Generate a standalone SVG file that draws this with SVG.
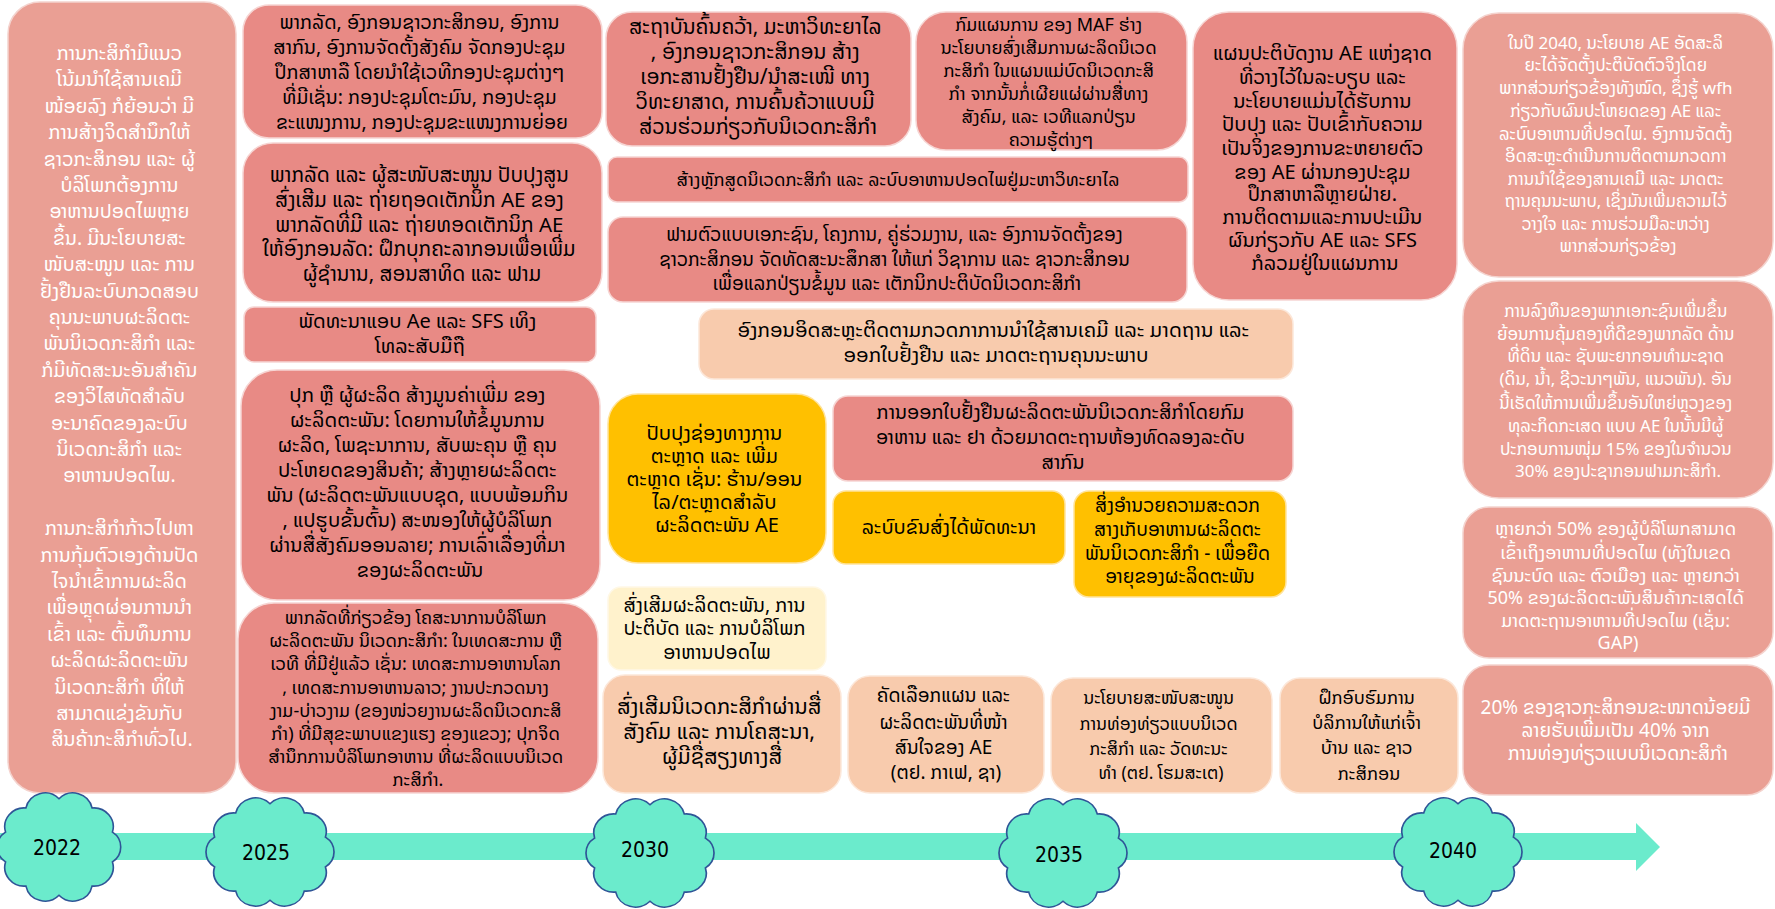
<svg xmlns="http://www.w3.org/2000/svg" width="1775" height="909" viewBox="0 0 1775 909">
<style>
text{font-family:"Noto Sans Lao","DejaVu Sans","Noto Sans",sans-serif;text-anchor:middle;}
.w{fill:#ffffff;font-size:19px;}
.b{fill:#000000;font-size:18px;}
.salmon{fill:#EA9F94;stroke:#F4D3CE;stroke-width:1.5;}
.pink{fill:#E88A85;stroke:#F6D5D3;stroke-width:1.5;}
.peach{fill:#F8CBAD;stroke:#FCE7D9;stroke-width:1.5;}
.orange{fill:#FFC000;stroke:#FFE39A;stroke-width:1.5;}
.cream{fill:#FFF2CC;stroke:#FFF8E6;stroke-width:1.5;}
.cloud{fill:#6BEBCC;stroke:#2F5597;stroke-width:1.5;}
.year{fill:#000000;font-size:21px;font-family:"DejaVu Sans Condensed","DejaVu Sans",sans-serif;}
</style>
<defs>
<path id="cloudShape" d="M0,-46 A18,18 0 0 1 30.6,-37.2 A18,18 0 0 1 49.5,-14.2 A17,17 0 0 1 49.5,14.2 A18,18 0 0 1 30.6,37.2 A18,18 0 0 1 0,46 A18,18 0 0 1 -30.6,37.2 A18,18 0 0 1 -49.5,14.2 A17,17 0 0 1 -49.5,-14.2 A18,18 0 0 1 -30.6,-37.2 A18,18 0 0 1 0,-46 Z"/>
</defs>

<g id="timeline">
<polygon points="0,833 1636,833 1636,823 1660,847 1636,871 1636,860 0,860" fill="#6BEBCC"/>
</g>

<g id="connectors"></g>

<g id="n2022-vision">
<rect class="salmon" x="8" y="2" width="228" height="791" rx="32"/>
<text class="w" style="font-size:19.5px">
<tspan x="122" y="60">ການກະສິກຳມີແນວ</tspan>
<tspan x="122" y="86.4">ໂນ້ມນຳໃຊ້ສານເຄມີ</tspan>
<tspan x="122" y="112.8">ໜ້ອຍລົງ ກໍຍ້ອນວ່າ ມີ</tspan>
<tspan x="122" y="139.2">ການສ້າງຈິດສຳນຶກໃຫ້</tspan>
<tspan x="122" y="165.6">ຊາວກະສິກອນ ແລະ ຜູ້</tspan>
<tspan x="122" y="192">ບໍລິໂພກຕ້ອງການ</tspan>
<tspan x="122" y="218.4">ອາຫານປອດໄພຫຼາຍ</tspan>
<tspan x="122" y="244.8">ຂຶ້ນ. ມີນະໂຍບາຍສະ</tspan>
<tspan x="122" y="271.2">ໜັບສະໜູນ ແລະ ການ</tspan>
<tspan x="122" y="297.6">ຢັ້ງຢືນລະບົບກວດສອບ</tspan>
<tspan x="122" y="324">ຄຸນນະພາບຜະລິດຕະ</tspan>
<tspan x="122" y="350.4">ພັນນິເວດກະສິກຳ ແລະ</tspan>
<tspan x="122" y="376.8">ກໍມີທັດສະນະອັນສຳຄັນ</tspan>
<tspan x="122" y="403.2">ຂອງວິໄສທັດສຳລັບ</tspan>
<tspan x="122" y="429.6">ອະນາຄົດຂອງລະບົບ</tspan>
<tspan x="122" y="456">ນິເວດກະສິກຳ ແລະ</tspan>
<tspan x="122" y="482.4">ອາຫານປອດໄພ.</tspan>
<tspan x="122" y="535.2">ການກະສິກຳກ້າວໄປຫາ</tspan>
<tspan x="122" y="561.6">ການກຸ້ມຕົວເອງດ້ານປັດ</tspan>
<tspan x="122" y="588">ໄຈນຳເຂົ້າການຜະລິດ</tspan>
<tspan x="122" y="614.4">ເພື່ອຫຼຸດຜ່ອນການນຳ</tspan>
<tspan x="122" y="640.8">ເຂົ້າ ແລະ ຕົ້ນທຶນການ</tspan>
<tspan x="122" y="667.2">ຜະລິດຜະລິດຕະພັນ</tspan>
<tspan x="122" y="693.6">ນິເວດກະສິກຳ ທີ່ໃຫ້</tspan>
<tspan x="122" y="720">ສາມາດແຂ່ງຂັນກັບ</tspan>
<tspan x="122" y="746.4">ສິນຄ້າກະສິກຳທົ່ວໄປ.</tspan>
</text>
</g>

<g id="n2025-dialogue">
<rect class="pink" x="243" y="5" width="359" height="133" rx="26"/>
<text class="b" style="font-size:19.5px">
<tspan x="422" y="29">ພາກລັດ, ອົງກອນຊາວກະສິກອນ, ອົງການ</tspan>
<tspan x="422" y="54">ສາກົນ, ອົງການຈັດຕັ້ງສັງຄົມ ຈັດກອງປະຊຸມ</tspan>
<tspan x="422" y="79">ປຶກສາຫາລື ໂດຍນຳໃຊ້ເວທີກອງປະຊຸມຕ່າງໆ</tspan>
<tspan x="422" y="104">ທີ່ມີເຊັ່ນ: ກອງປະຊຸມໂຕະມົນ, ກອງປະຊຸມ</tspan>
<tspan x="422" y="129">ຂະແໜງການ, ກອງປະຊຸມຂະແໜງການຍ່ອຍ</tspan>
</text>
</g>

<g id="n2025-centres">
<rect class="pink" x="243" y="143" width="359" height="159" rx="30"/>
<text class="b" style="font-size:20.5px">
<tspan x="422" y="182">ພາກລັດ ແລະ ຜູ້ສະໜັບສະໜູນ ປັບປຸງສູນ</tspan>
<tspan x="422" y="207">ສົ່ງເສີມ ແລະ ຖ່າຍຖອດເຕັກນິກ AE ຂອງ</tspan>
<tspan x="422" y="232">ພາກລັດທີ່ມີ ແລະ ຖ່າຍທອດເຕັກນິກ AE</tspan>
<tspan x="422" y="256">ໃຫ້ອົງກອນລັດ: ຝຶກບຸກຄະລາກອນເພື່ອເພີ່ມ</tspan>
<tspan x="422" y="281">ຜູ້ຊຳນານ, ສອນສາທິດ ແລະ ຟາມ</tspan>
</text>
</g>

<g id="n2025-app">
<rect class="pink" x="244" y="307" width="352" height="55" rx="10"/>
<text class="b" style="font-size:20px">
<tspan x="420" y="328">ພັດທະນາແອບ Ae ແລະ SFS ເທິງ</tspan>
<tspan x="420" y="353">ໂທລະສັບມືຖື</tspan>
</text>
</g>

<g id="n2025-value">
<rect class="pink" x="241" y="370" width="359" height="230" rx="36"/>
<text class="b" style="font-size:20px">
<tspan x="420" y="402">ປຸກ ຫຼື ຜູ້ຜະລິດ ສ້າງມູນຄ່າເພີ່ມ ຂອງ</tspan>
<tspan x="420" y="427">ຜະລິດຕະພັນ: ໂດຍການໃຫ້ຂໍ້ມູນການ</tspan>
<tspan x="420" y="452">ຜະລິດ, ໂພຊະນາການ, ສັບພະຄຸນ ຫຼື ຄຸນ</tspan>
<tspan x="420" y="477">ປະໂຫຍດຂອງສິນຄ້າ; ສ້າງຫຼາຍຜະລິດຕະ</tspan>
<tspan x="420" y="502">ພັນ (ຜະລິດຕະພັນແບບຊຸດ, ແບບພ້ອມກິນ</tspan>
<tspan x="420" y="527">, ແປຮູບຂັ້ນຕົ້ນ) ສະໜອງໃຫ້ຜູ້ບໍລິໂພກ</tspan>
<tspan x="420" y="552">ຜ່ານສື່ສັງຄົມອອນລາຍ; ການເລົ່າເລື່ອງທີ່ມາ</tspan>
<tspan x="420" y="577">ຂອງຜະລິດຕະພັນ</tspan>
</text>
</g>

<g id="n2025-promotion">
<rect class="pink" x="238" y="603" width="360" height="190" rx="36"/>
<text class="b">
<tspan x="418" y="624">ພາກລັດທີ່ກ່ຽວຂ້ອງ ໂຄສະນາການບໍລິໂພກ</tspan>
<tspan x="418" y="647">ຜະລິດຕະພັນ ນິເວດກະສິກຳ: ໃນເທດສະການ ຫຼື</tspan>
<tspan x="418" y="670">ເວທີ ທີ່ມີຢູ່ແລ້ວ ເຊັ່ນ: ເທດສະການອາຫານໂລກ</tspan>
<tspan x="418" y="694">, ເທດສະການອາຫານລາວ; ງານປະກວດນາງ</tspan>
<tspan x="418" y="717">ງາມ-ບ່າວງາມ (ຂອງໜ່ວຍງານຜະລິດນິເວດກະສິ</tspan>
<tspan x="418" y="740">ກຳ) ທີ່ມີສຸຂະພາບແຂງແຮງ ຂອງແຂວງ; ປຸກຈິດ</tspan>
<tspan x="418" y="763">ສຳນຶກການບໍລິໂພກອາຫານ ທີ່ຜະລິດແບບນິເວດ</tspan>
<tspan x="418" y="786">ກະສິກຳ.</tspan>
</text>
</g>

<g id="n2030-research">
<rect class="pink" x="606" y="12" width="305" height="134" rx="26"/>
<text class="b" style="font-size:21px">
<tspan x="758" y="34">ສະຖາບັນຄົ້ນຄວ້າ, ມະຫາວິທະຍາໄລ</tspan>
<tspan x="758" y="59">, ອົງກອນຊາວກະສິກອນ ສ້າງ</tspan>
<tspan x="758" y="84">ເອກະສານຢັ້ງຢືນ/ນຳສະເໜີ ທາງ</tspan>
<tspan x="758" y="109">ວິທະຍາສາດ, ການຄົ້ນຄ້ວາແບບມີ</tspan>
<tspan x="758" y="134">ສ່ວນຮ່ວມກ່ຽວກັບນິເວດກະສິກຳ</tspan>
</text>
</g>

<g id="n2030-maf">
<rect class="pink" x="916" y="12" width="271" height="138" rx="30"/>
<text class="b">
<tspan x="1051" y="31">ກົມແຜນການ ຂອງ MAF ຮ່າງ</tspan>
<tspan x="1051" y="54">ນະໂຍບາຍສົ່ງເສີມການຜະລິດນິເວດ</tspan>
<tspan x="1051" y="77">ກະສິກຳ ໃນແຜນແມ່ບົດນິເວດກະສິ</tspan>
<tspan x="1051" y="100">ກຳ ຈາກນັ້ນກໍ່ເຜີຍແຜ່ຜ່ານສື່ທາງ</tspan>
<tspan x="1051" y="123">ສັງຄົມ, ແລະ ເວທີແລກປ່ຽນ</tspan>
<tspan x="1051" y="146">ຄວາມຮູ້ຕ່າງໆ</tspan>
</text>
</g>

<g id="n2030-curriculum">
<rect class="pink" x="608" y="157" width="580" height="45" rx="9"/>
<text class="b"><tspan x="898" y="186">ສ້າງຫຼັກສູດນິເວດກະສິກຳ ແລະ ລະບົບອາຫານປອດໄພຢູ່ມະຫາວິທະຍາໄລ</tspan></text>
</g>

<g id="n2030-farms">
<rect class="pink" x="608" y="217" width="579" height="85" rx="15"/>
<text class="b" style="font-size:19px">
<tspan x="897" y="241">ຟາມຕົວແບບເອກະຊົນ, ໂຄງການ, ຄູ່ຮ່ວມງານ, ແລະ ອົງການຈັດຕັ້ງຂອງ</tspan>
<tspan x="897" y="266">ຊາວກະສິກອນ ຈັດທັດສະນະສຶກສາ ໃຫ້ແກ່ ວິຊາການ ແລະ ຊາວກະສິກອນ</tspan>
<tspan x="897" y="290">ເພື່ອແລກປ່ຽນຂໍ້ມູນ ແລະ ເຕັກນິກປະຕິບັດນິເວດກະສິກຳ</tspan>
</text>
</g>

<g id="n2030-monitoring">
<rect class="peach" x="699" y="309" width="594" height="70" rx="15"/>
<text class="b" style="font-size:20.3px">
<tspan x="996" y="337">ອົງກອນອິດສະຫຼະຕິດຕາມກວດກາການນຳໃຊ້ສານເຄມີ ແລະ ມາດຖານ ແລະ</tspan>
<tspan x="996" y="362">ອອກໃບຢັ້ງຢືນ ແລະ ມາດຕະຖານຄຸນນະພາບ</tspan>
</text>
</g>

<g id="n2030-market">
<rect class="orange" x="608" y="394" width="218" height="169" rx="30"/>
<text class="b" style="font-size:20px">
<tspan x="717" y="440">ປັບປຸງຊ່ອງທາງການ</tspan>
<tspan x="717" y="463">ຕະຫຼາດ ແລະ ເພີ່ມ</tspan>
<tspan x="717" y="486">ຕະຫຼາດ ເຊັ່ນ: ຮ້ານ/ອອນ</tspan>
<tspan x="717" y="509">ໄລ/ຕະຫຼາດສຳລັບ</tspan>
<tspan x="717" y="532">ຜະລິດຕະພັນ AE</tspan>
</text>
</g>

<g id="n2030-certification">
<rect class="pink" x="833" y="396" width="460" height="85" rx="15"/>
<text class="b" style="font-size:19.7px">
<tspan x="1063" y="419">ການອອກໃບຢັ້ງຢືນຜະລິດຕະພັນນິເວດກະສິກຳໂດຍກົມ</tspan>
<tspan x="1063" y="444">ອາຫານ ແລະ ຢາ ດ້ວຍມາດຕະຖານຫ້ອງທົດລອງລະດັບ</tspan>
<tspan x="1063" y="469">ສາກົນ</tspan>
</text>
</g>

<g id="n2030-transport">
<rect class="orange" x="833" y="491" width="232" height="73" rx="13"/>
<text class="b" style="font-size:19.8px"><tspan x="949" y="534">ລະບົບຂົນສົ່ງໄດ້ພັດທະນາ</tspan></text>
</g>

<g id="n2030-storage">
<rect class="orange" x="1074" y="491" width="212" height="106" rx="15"/>
<text class="b" style="font-size:19px">
<tspan x="1180" y="512">ສິ່ງອຳນວຍຄວາມສະດວກ</tspan>
<tspan x="1180" y="536">ສາງເກັບອາຫານຜະລິດຕະ</tspan>
<tspan x="1180" y="560">ພັນນິເວດກະສິກຳ - ເພື່ອຍືດ</tspan>
<tspan x="1180" y="583">ອາຍຸຂອງຜະລິດຕະພັນ</tspan>
</text>
</g>

<g id="n2030-promote">
<rect class="cream" x="608" y="587" width="218" height="83" rx="13"/>
<text class="b" style="font-size:19.5px">
<tspan x="717" y="612">ສົ່ງເສີມຜະລິດຕະພັນ, ການ</tspan>
<tspan x="717" y="635">ປະຕິບັດ ແລະ ການບໍລິໂພກ</tspan>
<tspan x="717" y="659">ອາຫານປອດໄພ</tspan>
</text>
</g>

<g id="n2030-social">
<rect class="peach" x="603" y="675" width="238" height="118" rx="22"/>
<text class="b" style="font-size:21.5px">
<tspan x="722" y="714">ສົ່ງເສີມນິເວດກະສິກຳຜ່ານສື່</tspan>
<tspan x="722" y="739">ສັງຄົມ ແລະ ການໂຄສະນາ,</tspan>
<tspan x="722" y="764">ຜູ້ມີຊື່ສຽງທາງສື່</tspan>
</text>
</g>

<g id="n2035-products">
<rect class="peach" x="848" y="676" width="196" height="117" rx="22"/>
<text class="b" style="font-size:19px">
<tspan x="946" y="702">ຄັດເລືອກແຜນ ແລະ</tspan>
<tspan x="946" y="729">ຜະລິດຕະພັນທີ່ໜ້າ</tspan>
<tspan x="946" y="754">ສົນໃຈຂອງ AE</tspan>
<tspan x="946" y="779">(ຕຢ. ກາເຟ, ຊາ)</tspan>
</text>
</g>

<g id="n2035-tourism">
<rect class="peach" x="1051" y="678" width="221" height="115" rx="22"/>
<text class="b" style="font-size:17.5px">
<tspan x="1161" y="704">ນະໂຍບາຍສະໜັບສະໜູນ</tspan>
<tspan x="1161" y="730">ການທ່ອງທ່ຽວແບບນິເວດ</tspan>
<tspan x="1161" y="755">ກະສິກຳ ແລະ ວັດທະນະ</tspan>
<tspan x="1161" y="779">ທຳ (ຕຢ. ໂຮມສະເຕ)</tspan>
</text>
</g>

<g id="n2035-training">
<rect class="peach" x="1280" y="678" width="178" height="115" rx="20"/>
<text class="b">
<tspan x="1369" y="704">ຝຶກອົບຮົມການ</tspan>
<tspan x="1369" y="729">ບໍລິການໃຫ້ແກ່ເຈົ້າ</tspan>
<tspan x="1369" y="754">ບ້ານ ແລະ ຊາວ</tspan>
<tspan x="1369" y="780">ກະສິກອນ</tspan>
</text>
</g>

<g id="n2035-plan">
<rect class="pink" x="1193" y="12" width="264" height="288" rx="36"/>
<text class="b" style="font-size:20px">
<tspan x="1325" y="60">ແຜນປະຕິບັດງານ AE ແຫ່ງຊາດ</tspan>
<tspan x="1325" y="84">ທີ່ວາງໄວ້ໃນລະບຽບ ແລະ</tspan>
<tspan x="1325" y="108">ນະໂຍບາຍແມ່ນໄດ້ຮັບການ</tspan>
<tspan x="1325" y="131">ປັບປຸງ ແລະ ປັບເຂົ້າກັບຄວາມ</tspan>
<tspan x="1325" y="155">ເປັນຈິງຂອງການຂະຫຍາຍຕົວ</tspan>
<tspan x="1325" y="179">ຂອງ AE ຜ່ານກອງປະຊຸມ</tspan>
<tspan x="1325" y="201">ປຶກສາຫາລືຫຼາຍຝ່າຍ.</tspan>
<tspan x="1325" y="224">ການຕິດຕາມແລະການປະເມີນ</tspan>
<tspan x="1325" y="247">ຜົນກ່ຽວກັບ AE ແລະ SFS</tspan>
<tspan x="1325" y="270">ກໍລວມຢູ່ໃນແຜນການ</tspan>
</text>
</g>

<g id="n2040-policy">
<rect class="salmon" x="1463" y="13" width="310" height="264" rx="36"/>
<text class="w" style="font-size:17px">
<tspan x="1618" y="49">ໃນປີ 2040, ນະໂຍບາຍ AE ອັດສະລິ</tspan>
<tspan x="1618" y="71">ຍະໄດ້ຈັດຕັ້ງປະຕິບັດຕົວຈິງໂດຍ</tspan>
<tspan x="1618" y="94">ພາກສ່ວນກ່ຽວຂ້ອງທັງໝົດ, ຊຶ່ງຮູ້ wfh</tspan>
<tspan x="1618" y="117">ກ່ຽວກັບຜົນປະໂຫຍດຂອງ AE ແລະ</tspan>
<tspan x="1618" y="140">ລະບົບອາຫານທີ່ປອດໄພ. ອົງການຈັດຕັ້ງ</tspan>
<tspan x="1618" y="162">ອິດສະຫຼະດຳເນີນການຕິດຕາມກວດກາ</tspan>
<tspan x="1618" y="185">ການນຳໃຊ້ຂອງສານເຄມີ ແລະ ມາດຕະ</tspan>
<tspan x="1618" y="207">ຖານຄຸນນະພາບ, ເຊິ່ງມັນເພີ່ມຄວາມໄວ້</tspan>
<tspan x="1618" y="230">ວາງໃຈ ແລະ ການຮ່ວມມືລະຫວ່າງ</tspan>
<tspan x="1618" y="252">ພາກສ່ວນກ່ຽວຂ້ອງ</tspan>
</text>
</g>

<g id="n2040-investment">
<rect class="salmon" x="1463" y="281" width="310" height="217" rx="36"/>
<text class="w" style="font-size:17px">
<tspan x="1618" y="317">ການລົງທຶນຂອງພາກເອກະຊົນເພີ່ມຂຶ້ນ</tspan>
<tspan x="1618" y="340">ຍ້ອນການຄຸ້ມຄອງທີ່ດີຂອງພາກລັດ ດ້ານ</tspan>
<tspan x="1618" y="362">ທີ່ດິນ ແລະ ຊັບພະຍາກອນທຳມະຊາດ</tspan>
<tspan x="1618" y="385">(ດິນ, ນ້ຳ, ຊີວະນາໆພັນ, ແນວພັນ). ອັນ</tspan>
<tspan x="1618" y="409">ນີ້ເຮັດໃຫ້ການເພີ່ມຂຶ້ນອັນໃຫຍ່ຫຼວງຂອງ</tspan>
<tspan x="1618" y="432">ທຸລະກິດກະເສດ ແບບ AE ໃນນັ້ນມີຜູ້</tspan>
<tspan x="1618" y="455">ປະກອບການໜຸ່ມ 15% ຂອງໃນຈຳນວນ</tspan>
<tspan x="1618" y="477">30% ຂອງປະຊາກອນຟາມກະສິກຳ.</tspan>
</text>
</g>

<g id="n2040-access">
<rect class="salmon" x="1463" y="507" width="310" height="151" rx="26"/>
<text class="w" style="font-size:18px">
<tspan x="1618" y="535">ຫຼາຍກວ່າ 50% ຂອງຜູ້ບໍລິໂພກສາມາດ</tspan>
<tspan x="1618" y="559">ເຂົ້າເຖິງອາຫານທີ່ປອດໄພ (ທັງໃນເຂດ</tspan>
<tspan x="1618" y="582">ຊົນນະບົດ ແລະ ຕົວເມືອງ ແລະ ຫຼາຍກວ່າ</tspan>
<tspan x="1618" y="604">50% ຂອງຜະລິດຕະພັນສິນຄ້າກະເສດໄດ້</tspan>
<tspan x="1618" y="627">ມາດຕະຖານອາຫານທີ່ປອດໄພ (ເຊັ່ນ:</tspan>
<tspan x="1618" y="649">GAP)</tspan>
</text>
</g>

<g id="n2040-income">
<rect class="salmon" x="1463" y="665" width="310" height="130" rx="26"/>
<text class="w" style="font-size:19px">
<tspan x="1618" y="714">20% ຂອງຊາວກະສິກອນຂະໜາດນ້ອຍມີ</tspan>
<tspan x="1618" y="737">ລາຍຮັບເພີ່ມເປັນ 40% ຈາກ</tspan>
<tspan x="1618" y="760">ການທ່ອງທ່ຽວແບບນິເວດກະສິກຳ</tspan>
</text>
</g>

<g id="y2022"><use href="#cloudShape" class="cloud" transform="translate(59,847) scale(1.08,1.05)"/><text class="year" x="57" y="855">2022</text></g>
<g id="y2025"><use href="#cloudShape" class="cloud" transform="translate(270,852) scale(1.12,1.05)"/><text class="year" x="266" y="860">2025</text></g>
<g id="y2030"><use href="#cloudShape" class="cloud" transform="translate(650,853) scale(1.12,1.05)"/><text class="year" x="645" y="857">2030</text></g>
<g id="y2035"><use href="#cloudShape" class="cloud" transform="translate(1063,853) scale(1.12,1.05)"/><text class="year" x="1059" y="862">2035</text></g>
<g id="y2040"><use href="#cloudShape" class="cloud" transform="translate(1458,852) scale(1.12,1.05)"/><text class="year" x="1453" y="858">2040</text></g>
</svg>
